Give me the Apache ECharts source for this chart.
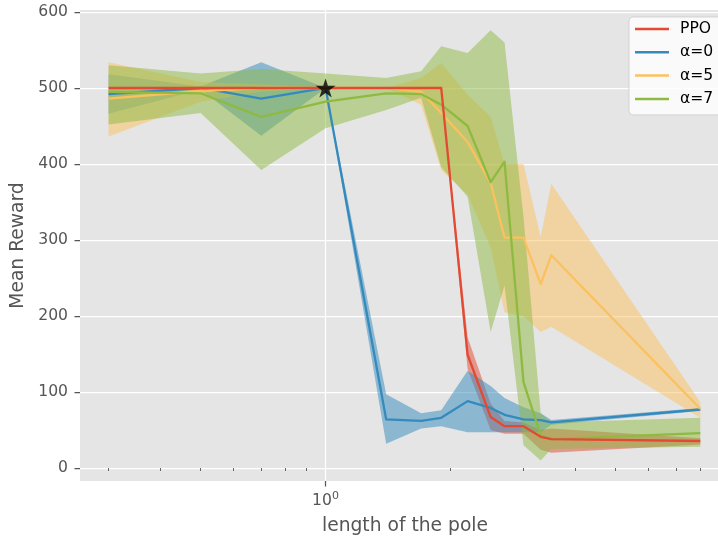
<!DOCTYPE html>
<html>
<head>
<meta charset="utf-8">
<script src="https://cdn.jsdelivr.net/npm/echarts@6/dist/echarts.min.js"></script>
<style>
  html, body { margin: 0; padding: 0; background: #ffffff; }
  #chart { width: 718px; height: 538px; }
</style>
</head>
<body>
<div id="chart"></div>
<script>
// Pole lengths at which every agent was evaluated
const poleLengths = [0.3, 0.5, 0.7, 1.0, 1.4, 1.7, 1.9, 2.2, 2.5, 2.7, 3.0, 3.3, 3.5, 8.0];

// PPO baseline: mean reward and spread
const ppoMean = [500, 500, 500, 500, 500, 500, 500, 149, 67, 55, 55, 41, 38, 35.5];
const ppoLow  = [500, 500, 500, 500, 500, 500, 500, 130, 50, 45, 45, 24, 20, 31];
const ppoHigh = [500, 500, 500, 500, 500, 500, 500, 172, 85, 62, 60, 50, 52, 39];

// alpha = 0
const a0Mean = [492, 500, 486, 500, 64, 62, 66, 88, 79, 70, 64, 63, 60, 77];
const a0Low  = [466, 498, 437, 500, 32, 52, 55, 47, 47, 47, 47, 47, 57, 75];
const a0High = [518, 502, 534, 500, 97, 72, 76, 128, 108, 92, 80, 72, 63, 79];

// alpha = 5
const a5Mean = [486, 496, 500, 500, 500, 495, 467, 429, 375, 303, 303, 242, 280, 78];
const a5Low  = [436, 482, 495, 500, 500, 478, 392, 360, 290, 205, 200, 179, 186, 66];
const a5High = [534, 508, 505, 500, 500, 513, 533, 491, 462, 400, 400, 304, 374, 87];

// alpha = 7
const a7Mean = [495, 493, 462, 482, 493, 492, 478, 450, 376, 403, 113, 43, 38, 46];
const a7Low  = [452, 467, 392, 447, 471, 487, 396, 357, 179, 240, 30, 10, 25, 28];
const a7High = [530, 519, 525, 519, 513, 522, 555, 546, 576, 560, 330, 72, 60, 66];

// Training configuration marker
const trainLength = [1.0];
const trainReward = [500];

const seriesNames = ['PPO', 'α=0', 'α=5', 'α=7'];
const yTicks = [0, 100, 200, 300, 400, 500, 600];
const xMinorTicks = [0.3, 0.4, 0.5, 0.6, 0.7, 0.8, 0.9, 2, 3, 4, 5, 6, 7, 8];
const xMajorTicks = [1];

const colors = ['#E24A33', '#348ABD', '#FBC15E', '#8EBA42'];
const fills = ['rgba(226,74,51,0.5)', 'rgba(52,138,189,0.5)', 'rgba(251,193,94,0.5)', 'rgba(142,186,66,0.5)'];

const means = [ppoMean, a0Mean, a5Mean, a7Mean];
const lows = [ppoLow, a0Low, a5Low, a7Low];
const highs = [ppoHigh, a0High, a5High, a7High];

const TICK = '#555555';
const FONT = 'DejaVu Sans';

function bandSeries(k) {
  return {
    type: 'custom',
    name: seriesNames[k] + ' spread',
    silent: true,
    z: 2,
    data: [[poleLengths[0], highs[k][0]]],
    renderItem: function (params, api) {
      const pts = [];
      for (let i = 0; i < poleLengths.length; i++) pts.push(api.coord([poleLengths[i], highs[k][i]]));
      for (let i = poleLengths.length - 1; i >= 0; i--) pts.push(api.coord([poleLengths[i], lows[k][i]]));
      return { type: 'polygon', shape: { points: pts }, style: { fill: fills[k], stroke: null } };
    }
  };
}

function lineSeries(k, z) {
  return {
    type: 'line',
    name: seriesNames[k],
    z: z,
    showSymbol: false,
    symbol: 'none',
    color: colors[k],
    lineStyle: { color: colors[k], width: 2.3, join: 'round' },
    data: poleLengths.map((x, i) => [x, means[k][i]])
  };
}

const starPath = 'path://M0,-1L0.2245,-0.309L0.951,-0.309L0.363,0.118L0.588,0.809L0,0.382L-0.588,0.809L-0.363,0.118L-0.951,-0.309L-0.2245,-0.309Z';

const series = [
  bandSeries(0), bandSeries(1), bandSeries(2), bandSeries(3),
  lineSeries(1, 3), lineSeries(2, 3), lineSeries(3, 3), lineSeries(0, 4),
  {
    type: 'scatter',
    name: 'train',
    z: 5,
    symbol: starPath,
    symbolSize: [20, 19],
    itemStyle: { color: '#000000' },
    data: trainLength.map((x, i) => [x, trainReward[i]])
  }
];

const xMin = 0.2560, xMax = 9.435;

const option = {
  animation: false,
  backgroundColor: '#ffffff',
  textStyle: { fontFamily: FONT },
  grid: {
    left: 80, top: 10, width: 650, height: 471,
    outerBoundsMode: 'none',
    containLabel: false,
    show: true, backgroundColor: '#E5E5E5', borderWidth: 0
  },
  legend: {
    data: seriesNames,
    orient: 'vertical',
    left: 629, top: 17,
    padding: [3, 10, 7, 6],
    itemGap: 5.3,
    itemWidth: 34, itemHeight: 2.5,
    icon: 'rect',
    backgroundColor: 'rgba(255,255,255,0.8)',
    borderColor: 'rgba(204,204,204,0.8)',
    borderWidth: 1,
    borderRadius: 4,
    selectedMode: false,
    textStyle: { fontFamily: FONT, fontSize: 15.6, color: '#000000', lineHeight: 18, padding: [0, 0, 0, 6] }
  },
  xAxis: [
    {
      type: 'log', logBase: 10, min: xMin, max: xMax, position: 'bottom',
      name: 'length of the pole', nameLocation: 'middle', nameGap: 36,
      nameTextStyle: { fontFamily: FONT, fontSize: 18.7, color: TICK },
      axisLine: { show: false },
      axisTick: { show: true, customValues: xMinorTicks, length: 3, lineStyle: { color: TICK, width: 0.9 } },
      axisLabel: {
        show: true, customValues: xMajorTicks, margin: 10,
        formatter: function (v) { return '{b|10}{s|' + Math.round(Math.log10(v)) + '}'; },
        rich: {
          b: { fontFamily: FONT, fontSize: 15.6, color: TICK },
          s: { fontFamily: FONT, fontSize: 11, color: TICK, padding: [0, 0, 9, 0] }
        }
      },
      splitLine: { show: false }
    },
    {
      type: 'log', logBase: 10, min: xMin, max: xMax, position: 'bottom',
      axisLine: { show: false },
      axisTick: { show: true, customValues: xMajorTicks, length: 5.5, lineStyle: { color: TICK, width: 1.25 } },
      axisLabel: { show: false },
      splitLine: { show: true, lineStyle: { color: '#ffffff', width: 1.25 } }
    }
  ],
  yAxis: {
    type: 'value', min: -17.1, max: 602.6,
    name: 'Mean Reward', nameLocation: 'middle', nameGap: 45,
    nameTextStyle: { fontFamily: FONT, fontSize: 18.7, color: TICK },
    axisLine: { show: false },
    axisTick: { show: true, customValues: yTicks, length: 5.5, lineStyle: { color: TICK, width: 1.25 } },
    axisLabel: { show: true, customValues: yTicks, margin: 12, fontFamily: FONT, fontSize: 15.6, color: TICK },
    splitLine: { show: true, lineStyle: { color: '#ffffff', width: 1.25 } }
  },
  series: series
};

const chart = echarts.init(document.getElementById('chart'), null, { renderer: 'canvas' });
chart.setOption(option);
</script>
</body>
</html>
